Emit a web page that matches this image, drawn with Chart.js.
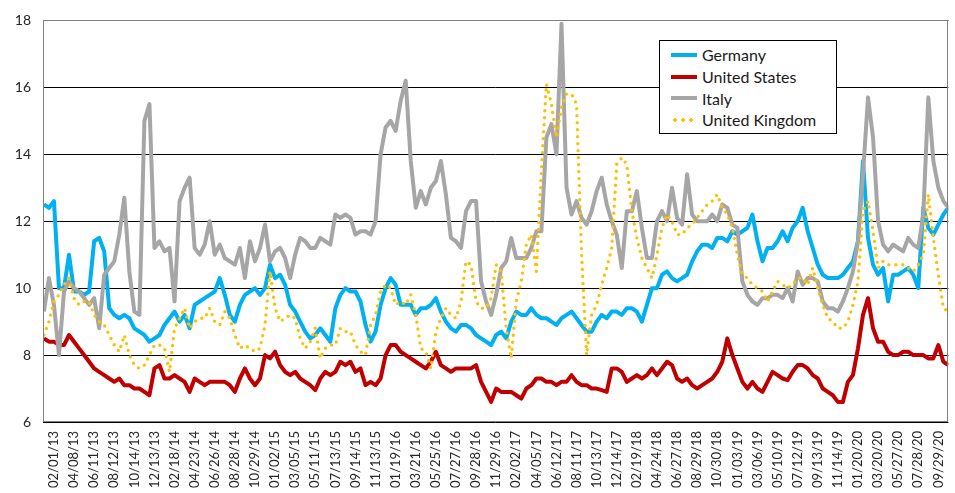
<!DOCTYPE html>
<html>
<head>
<meta charset="utf-8">
<script src="https://cdn.jsdelivr.net/npm/chart.js@4.4.0/dist/chart.umd.min.js"></script>
<style>
  html, body { margin: 0; padding: 0; background: #fff; }
  #wrap { position: relative; width: 955px; height: 493px; }
  #legend {
    position: absolute; left: 659px; top: 40px; width: 178px; height: 94px;
    box-sizing: border-box; border: 1px solid #000; background: #fff;
    padding: 3px 0 0 11px; font-family: Lato, "Liberation Sans", sans-serif;
    font-size: 16px; color: #1a1a1a;
  }
  .item { height: 21.7px; display: flex; align-items: center; white-space: nowrap; }
  .swatch { width: 26px; height: 4px; margin-right: 5px; }
</style>
</head>
<body>
<div id="wrap">
  <canvas id="chart" width="955" height="493"></canvas>
  <div id="legend"></div>
</div>
<script>
// tick labels, one every 4 data points
const tickLabels = ['02/01/13', '04/08/13', '06/11/13', '08/12/13', '10/14/13', '12/13/13', '02/18/14', '04/23/14', '06/26/14', '08/28/14',
  '10/29/14', '01/02/15', '03/05/15', '05/11/15', '07/13/15', '09/14/15', '11/13/15', '01/19/16', '03/21/16', '05/25/16',
  '07/27/16', '09/28/16', '11/29/16', '02/02/17', '04/05/17', '06/12/17', '08/11/17', '10/13/17', '12/14/17', '02/19/18',
  '04/24/18', '06/27/18', '08/29/18', '10/30/18', '01/03/19', '03/06/19', '05/10/19', '07/12/19', '09/13/19', '11/14/19',
  '01/20/20', '03/20/20', '05/27/20', '07/28/20', '09/29/20'];

const germany = [
  12.5, 12.4, 12.6, 10.0, 10.0, 11.0, 9.9, 9.9, 9.8, 9.9,
  11.4, 11.5, 11.1, 9.4, 9.2, 9.1, 9.2, 9.1, 8.8, 8.7,
  8.6, 8.4, 8.5, 8.6, 8.9, 9.1, 9.3, 9.0, 9.2, 8.8,
  9.5, 9.6, 9.7, 9.8, 9.9, 10.3, 9.8, 9.2, 9.0, 9.5,
  9.8, 9.9, 10.0, 9.8, 10.0, 10.7, 10.3, 10.4, 10.1, 9.5,
  9.3, 9.0, 8.7, 8.5, 8.6, 8.8, 8.6, 8.4, 9.4, 9.8,
  10.0, 9.9, 9.9, 9.6, 8.9, 8.4, 8.7, 9.5, 10.0, 10.3,
  10.1, 9.5, 9.5, 9.5, 9.2, 9.4, 9.4, 9.5, 9.7, 9.3,
  9.0, 8.8, 8.7, 8.9, 8.9, 8.8, 8.6, 8.5, 8.4, 8.3,
  8.6, 8.7, 8.5, 9.0, 9.3, 9.2, 9.2, 9.4, 9.2, 9.1,
  9.1, 9.0, 8.9, 9.1, 9.2, 9.3, 9.1, 8.9, 8.7, 8.7,
  9.0, 9.2, 9.1, 9.3, 9.3, 9.2, 9.4, 9.4, 9.3, 9.0,
  9.5, 10.0, 10.0, 10.4, 10.5, 10.3, 10.2, 10.3, 10.4, 10.8,
  11.1, 11.3, 11.3, 11.2, 11.5, 11.5, 11.4, 11.7, 11.6, 11.7,
  11.8, 12.2, 11.4, 10.8, 11.2, 11.2, 11.4, 11.7, 11.4, 11.8,
  12.0, 12.4, 11.7, 11.2, 10.7, 10.4, 10.3, 10.3, 10.3, 10.4,
  10.6, 10.8, 11.4, 13.8, 11.5, 10.7, 10.4, 10.6, 9.6, 10.4,
  10.4, 10.5, 10.6, 10.4, 10.0, 12.4, 11.8, 11.6, 11.9, 12.2, 12.4];

const unitedStates = [
  8.5, 8.4, 8.4, 8.3, 8.3, 8.6, 8.4, 8.2, 8.0, 7.8,
  7.6, 7.5, 7.4, 7.3, 7.2, 7.3, 7.1, 7.1, 7.0, 7.0,
  6.9, 6.8, 7.6, 7.7, 7.3, 7.3, 7.4, 7.3, 7.2, 6.9,
  7.3, 7.2, 7.1, 7.2, 7.2, 7.2, 7.2, 7.1, 6.9, 7.3,
  7.6, 7.3, 7.1, 7.3, 8.0, 7.9, 8.1, 7.7, 7.5, 7.4,
  7.5, 7.3, 7.2, 7.1, 6.95, 7.3, 7.5, 7.4, 7.5, 7.8,
  7.7, 7.8, 7.5, 7.6, 7.1, 7.2, 7.1, 7.3, 8.0, 8.3,
  8.3, 8.1, 8.0, 7.9, 7.8, 7.7, 7.6, 7.8, 8.1, 7.7,
  7.6, 7.5, 7.6, 7.6, 7.6, 7.6, 7.7, 7.2, 6.9, 6.6,
  7.0, 6.9, 6.9, 6.9, 6.8, 6.7, 7.0, 7.1, 7.3, 7.3,
  7.2, 7.2, 7.1, 7.2, 7.2, 7.4, 7.2, 7.1, 7.1, 7.0,
  7.0, 6.95, 6.9, 7.6, 7.6, 7.5, 7.2, 7.3, 7.4, 7.3,
  7.4, 7.6, 7.4, 7.6, 7.8, 7.7, 7.3, 7.2, 7.3, 7.1,
  7.0, 7.1, 7.2, 7.3, 7.5, 7.8, 8.5, 8.0, 7.6, 7.2,
  7.0, 7.2, 7.0, 6.9, 7.2, 7.5, 7.4, 7.3, 7.25, 7.5,
  7.7, 7.7, 7.6, 7.4, 7.3, 7.0, 6.9, 6.8, 6.6, 6.6,
  7.2, 7.4, 8.2, 9.2, 9.7, 8.8, 8.4, 8.4, 8.1, 8.0,
  8.0, 8.1, 8.1, 8.0, 8.0, 8.0, 7.9, 7.9, 8.3, 7.8, 7.7];

const italy = [
  9.3, 10.3, 9.5, 8.0, 9.9, 10.2, 10.0, 9.9, 9.7, 9.5,
  9.7, 8.8, 10.4, 10.6, 10.8, 11.6, 12.7, 10.5, 9.3, 9.2,
  15.0, 15.5, 11.2, 11.4, 11.1, 11.2, 9.6, 12.6, 13.0, 13.3,
  11.2, 11.0, 11.3, 12.0, 11.0, 11.3, 10.9, 10.8, 10.7, 11.2,
  10.3, 11.4, 10.8, 11.2, 11.9, 10.8, 11.1, 11.2, 10.9, 10.3,
  11.0, 11.5, 11.4, 11.2, 11.2, 11.5, 11.4, 11.3, 12.2, 12.1,
  12.2, 12.1, 11.6, 11.7, 11.7, 11.6, 12.0, 14.0, 14.8, 15.0,
  14.7, 15.6, 16.2, 13.8, 12.4, 12.9, 12.5, 13.0, 13.2, 13.8,
  12.8, 11.5, 11.4, 11.2, 12.3, 12.6, 12.6, 10.2, 9.6, 9.2,
  9.8, 10.6, 10.8, 11.5, 10.9, 10.9, 10.9, 11.2, 11.7, 11.7,
  14.5, 14.9, 14.0, 17.9, 13.0, 12.2, 12.6, 12.1, 11.9, 12.3,
  12.9, 13.3, 12.5, 12.0, 11.6, 10.6, 12.3, 12.3, 12.9, 11.8,
  10.9, 10.9, 12.0, 12.3, 12.0, 13.0, 12.1, 11.9, 13.4, 12.2,
  12.0, 12.0, 12.0, 12.2, 12.0, 12.5, 12.4, 11.9, 11.8, 10.2,
  9.8, 9.6, 9.5, 9.7, 9.7, 9.8, 9.8, 9.7, 10.0, 9.6,
  10.5, 10.1, 10.3, 10.3, 10.2, 9.6, 9.4, 9.4, 9.3, 9.6,
  10.0, 10.5, 11.4, 13.4, 15.7, 14.5, 12.0, 11.3, 11.1, 11.3,
  11.2, 11.1, 11.5, 11.3, 11.2, 12.2, 15.7, 13.8, 13.0, 12.6, 12.4];

const unitedKingdom = [
  8.6, 9.0, 9.6, 9.8, 10.1, 10.3, 9.7, 9.5, 9.6, 9.6,
  9.2, 9.0, 8.9, 8.6, 8.3, 8.1, 8.6, 8.0, 7.7, 7.6,
  7.7, 8.0, 8.3, 8.3, 8.2, 7.5, 8.8, 9.1, 9.4, 8.8,
  9.0, 9.1, 9.1, 9.4, 9.0, 8.9, 9.3, 9.1, 8.6, 8.2,
  8.3, 8.2, 8.1, 8.2, 8.9, 10.5, 9.4, 9.0, 9.1, 9.2,
  9.1, 8.5, 8.2, 8.4, 8.8, 7.9, 8.2, 8.3, 8.3, 8.8,
  8.7, 8.7, 8.3, 8.1, 8.0, 8.9, 9.2, 9.9, 10.1, 10.0,
  9.5, 9.6, 9.5, 9.8, 9.2, 8.2, 8.1, 7.6, 8.7, 9.1,
  9.4, 9.2, 9.1, 9.6, 10.8, 10.7, 9.6, 9.4, 9.4, 9.7,
  10.7, 10.5, 8.8, 7.9, 9.6, 10.2, 11.3, 11.6, 10.5, 13.5,
  16.1, 15.5, 14.5, 15.4, 15.8, 15.8, 15.5, 11.0, 8.0, 9.2,
  9.5, 10.1, 10.6, 11.2, 13.7, 13.9, 13.7, 12.3, 11.5, 10.9,
  10.6, 10.3, 11.0, 11.8, 12.2, 12.0, 11.6, 11.6, 11.8, 11.9,
  12.1, 12.3, 12.5, 12.6, 12.8, 12.4, 12.2, 11.8, 11.0, 10.4,
  10.3, 10.1, 10.0, 9.9, 9.6, 9.9, 10.2, 10.1, 10.0, 10.1,
  10.3, 10.3, 10.1, 10.6, 10.0, 9.5, 9.1, 9.0, 8.8, 8.8,
  9.0, 9.5, 10.2, 12.3, 12.6, 11.7, 10.6, 10.8, 10.7, 10.7,
  10.7, 10.7, 10.6, 10.5, 10.7, 11.0, 12.8, 11.5, 10.4, 9.4, 9.3];

// data points sit a quarter of a tick interval apart, starting half an interval before the first label
const pointsPerTick = 4;
const firstOffset = -0.5;
const toPoints = (values) => values.map((v, i) => ({ x: firstOffset + i / pointsPerTick, y: v }));

const series = [
  { label: 'Germany', data: germany, color: '#00B0F0', dotted: false, order: 3 },
  { label: 'United States', data: unitedStates, color: '#C00000', dotted: false, order: 2 },
  { label: 'Italy', data: italy, color: '#A6A6A6', dotted: false, order: 1 },
  { label: 'United Kingdom', data: unitedKingdom, color: '#FFC000', dotted: true, order: 0 },
];

const datasets = series.map((s) => ({
  label: s.label,
  data: toPoints(s.data),
  borderColor: s.color,
  backgroundColor: s.color,
  borderWidth: s.dotted ? 3.4 : 4,
  borderDash: s.dotted ? [0, 7] : [],
  borderCapStyle: s.dotted ? 'round' : 'butt',
  borderJoinStyle: 'round',
  pointRadius: 0,
  tension: 0,
  order: s.order,
}));

const frame = {
  id: 'frame',
  afterDraw(chart) {
    const { ctx, chartArea: a } = chart;
    ctx.save();
    ctx.strokeStyle = '#7f7f7f';
    ctx.lineWidth = 1;
    ctx.strokeRect(Math.round(a.left) + 0.5, Math.round(a.top) + 0.5, Math.round(a.right - a.left) - 1, Math.round(a.bottom - a.top) - 1);
    ctx.restore();
  },
};

const tickFont = { family: 'Lato, "Liberation Sans", sans-serif', size: 14 };
const dateFont = { family: 'Lato, "Liberation Sans", sans-serif', size: 13 };

const chart = new Chart(document.getElementById('chart'), {
  type: 'line',
  data: { datasets },
  options: {
    responsive: false,
    animation: false,
    layout: { padding: { left: 0, top: 15, right: 3, bottom: 0 } },
    plugins: { legend: { display: false }, tooltip: { enabled: false } },
    scales: {
      x: {
        type: 'linear',
        min: -0.545,
        max: 44.5,
        afterBuildTicks: (scale) => { scale.ticks = tickLabels.map((_, k) => ({ value: k })); },
        afterFit: (scale) => { scale.height = 71; },
        ticks: {
          autoSkip: false,
          maxRotation: 90,
          minRotation: 90,
          padding: 1,
          color: '#262626',
          font: dateFont,
          callback: (value) => tickLabels[value],
        },
        grid: { display: false },
        border: { display: false },
      },
      y: {
        min: 6,
        max: 18,
        afterFit: (scale) => { scale.width = 43; },
        ticks: { stepSize: 2, padding: 12, color: '#262626', font: tickFont },
        grid: { color: '#000', lineWidth: 1, drawTicks: false },
        border: { display: false },
      },
    },
  },
  plugins: [frame],
});

// legend box drawn over the plot, in the original series order
const legend = document.getElementById('legend');
series.forEach((s) => {
  const item = document.createElement('div');
  item.className = 'item';
  const sw = document.createElement('span');
  sw.className = 'swatch';
  if (s.dotted) {
    sw.style.background = `radial-gradient(circle, ${s.color} 1.6px, transparent 2.1px) 0 0 / 8px 4px repeat-x`;
  } else {
    sw.style.background = s.color;
  }
  const txt = document.createElement('span');
  txt.textContent = s.label;
  item.appendChild(sw);
  item.appendChild(txt);
  legend.appendChild(item);
});
</script>
</body>
</html>
